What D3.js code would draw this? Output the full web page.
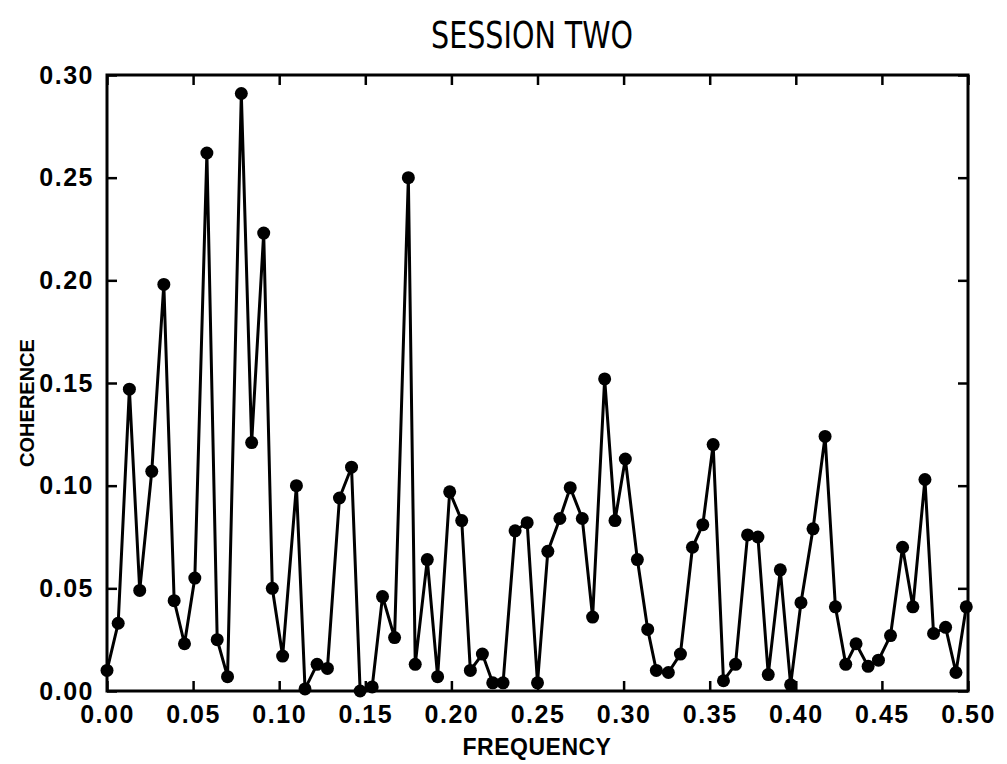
<!DOCTYPE html>
<html>
<head>
<meta charset="utf-8">
<script src="https://cdn.jsdelivr.net/npm/d3@7"></script>
<style>
  body { margin: 0; background: #fff; }
  .tick text { font-family: "Liberation Sans", Arial, sans-serif; font-weight: bold; font-size: 25px; fill: #000; letter-spacing: 1.5px; }
  .tick line { stroke: #000; stroke-width: 2.5; }
</style>
</head>
<body>
<div id="chart"></div>
<script>
// frequency (cycles) and coherence
var freq = [0.000, 0.0065, 0.013, 0.019, 0.026, 0.033, 0.039, 0.045, 0.051, 0.058,
            0.064, 0.070, 0.078, 0.084, 0.091, 0.096, 0.102, 0.110, 0.115, 0.122,
            0.128, 0.135, 0.142, 0.147, 0.154, 0.160, 0.167, 0.175, 0.179, 0.186,
            0.192, 0.199, 0.206, 0.211, 0.218, 0.224, 0.230, 0.237, 0.244, 0.250,
            0.256, 0.263, 0.269, 0.276, 0.282, 0.289, 0.295, 0.301, 0.308, 0.314,
            0.319, 0.326, 0.333, 0.340, 0.346, 0.352, 0.358, 0.365, 0.372, 0.378,
            0.384, 0.391, 0.397, 0.403, 0.410, 0.417, 0.423, 0.429, 0.435, 0.442,
            0.448, 0.455, 0.462, 0.468, 0.475, 0.480, 0.487, 0.493, 0.499];
var coherence = [0.010, 0.033, 0.147, 0.049, 0.107, 0.198, 0.044, 0.023, 0.055, 0.262,
                 0.025, 0.007, 0.291, 0.121, 0.223, 0.050, 0.017, 0.100, 0.001, 0.013,
                 0.011, 0.094, 0.109, 0.000, 0.002, 0.046, 0.026, 0.250, 0.013, 0.064,
                 0.007, 0.097, 0.083, 0.010, 0.018, 0.004, 0.004, 0.078, 0.082, 0.004,
                 0.068, 0.084, 0.099, 0.084, 0.036, 0.152, 0.083, 0.113, 0.064, 0.030,
                 0.010, 0.009, 0.018, 0.070, 0.081, 0.120, 0.005, 0.013, 0.076, 0.075,
                 0.008, 0.059, 0.003, 0.043, 0.079, 0.124, 0.041, 0.013, 0.023, 0.012,
                 0.015, 0.027, 0.070, 0.041, 0.103, 0.028, 0.031, 0.009, 0.041];
var xTicks = [0, 0.05, 0.10, 0.15, 0.20, 0.25, 0.30, 0.35, 0.40, 0.45, 0.50];
var yTicks = [0, 0.05, 0.10, 0.15, 0.20, 0.25, 0.30];

var width = 1007, height = 764;
var margin = {top: 75, right: 39, bottom: 73, left: 107};

var svg = d3.select('#chart').append('svg')
    .attr('width', width)
    .attr('height', height);

var x = d3.scaleLinear().domain([0, 0.5]).range([margin.left, width - margin.right]);
var y = d3.scaleLinear().domain([0, 0.3]).range([height - margin.bottom, margin.top]);

var fmt = d3.format('.2f');

// bottom + top axes, ticks pointing inward
svg.append('g')
    .attr('transform', 'translate(0,' + y(0) + ')')
    .call(d3.axisBottom(x).tickValues(xTicks).tickFormat(fmt).tickSizeInner(-10).tickSizeOuter(0).tickPadding(14));
svg.append('g')
    .attr('transform', 'translate(0,' + y(0.3) + ')')
    .call(d3.axisTop(x).tickValues(xTicks).tickFormat('').tickSizeInner(-10).tickSizeOuter(0));

// left + right axes
svg.append('g')
    .attr('transform', 'translate(' + x(0) + ',0)')
    .call(d3.axisLeft(y).tickValues(yTicks).tickFormat(fmt).tickSizeInner(-10).tickSizeOuter(0).tickPadding(13));
svg.append('g')
    .attr('transform', 'translate(' + x(0.5) + ',0)')
    .call(d3.axisRight(y).tickValues(yTicks).tickFormat('').tickSizeInner(-10).tickSizeOuter(0));

svg.selectAll('.domain').remove();

// frame
svg.append('rect')
    .attr('x', x(0)).attr('y', y(0.3))
    .attr('width', x(0.5) - x(0)).attr('height', y(0) - y(0.3))
    .attr('fill', 'none').attr('stroke', '#000').attr('stroke-width', 3);

var pts = freq.map(function (f, i) { return {f: f, c: coherence[i]}; });

var line = d3.line()
    .x(function (d) { return x(d.f); })
    .y(function (d) { return y(d.c); });

svg.append('path')
    .datum(pts)
    .attr('d', line)
    .attr('fill', 'none')
    .attr('stroke', '#000')
    .attr('stroke-width', 3);

svg.selectAll('.dot')
    .data(pts)
    .enter().append('circle')
    .attr('class', 'dot')
    .attr('cx', function (d) { return x(d.f); })
    .attr('cy', function (d) { return y(d.c); })
    .attr('r', 6.5)
    .attr('fill', '#000');

// titles
svg.append('text')
    .attr('x', 532).attr('y', 48)
    .attr('text-anchor', 'middle')
    .attr('textLength', 202)
    .attr('lengthAdjust', 'spacingAndGlyphs')
    .style('font-family', '"Liberation Sans Narrow", "DejaVu Sans Condensed", sans-serif')
    .style('font-size', '37px')
    .text('SESSION TWO');

svg.append('text')
    .attr('x', 537).attr('y', 755)
    .attr('text-anchor', 'middle')
    .style('font-family', '"Liberation Sans", Arial, sans-serif')
    .style('font-weight', 'bold')
    .style('font-size', '23px')
    .style('letter-spacing', '0.5px')
    .text('FREQUENCY');

svg.append('text')
    .attr('transform', 'translate(34,403) rotate(-90)')
    .attr('text-anchor', 'middle')
    .style('font-family', '"Liberation Sans", Arial, sans-serif')
    .style('font-weight', 'bold')
    .style('font-size', '20px')
    .text('COHERENCE');
</script>
</body>
</html>
